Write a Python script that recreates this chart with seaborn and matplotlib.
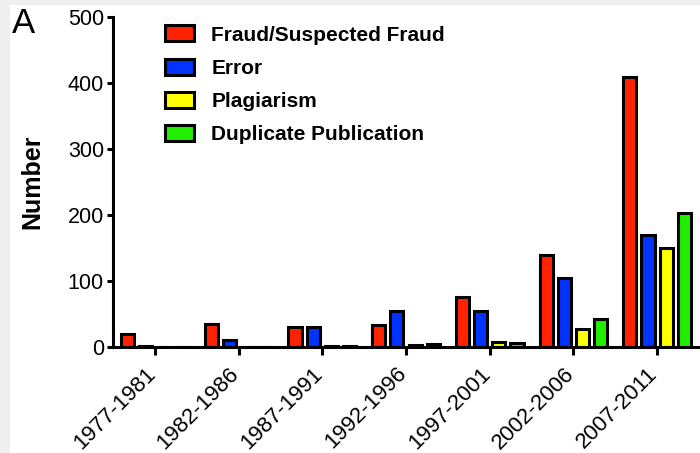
import matplotlib
matplotlib.use("Agg")
import matplotlib.pyplot as plt
import matplotlib.transforms as mtransforms
import seaborn as sns
import pandas as pd
from matplotlib.patches import Rectangle

periods = ["1977-1981", "1982-1986", "1987-1991", "1992-1996",
           "1997-2001", "2002-2006", "2007-2011"]
categories = ["Fraud/Suspected Fraud", "Error", "Plagiarism", "Duplicate Publication"]
fraud = [20, 35, 30, 34, 76, 140, 409]
error = [1, 11, 31, 54, 55, 105, 169]
plagiarism = [0, 0, 1, 3, 7, 28, 150]
duplicate = [0, 0, 1, 4, 6, 42, 203]
colors = ["#ff2200", "#0033ff", "#ffff00", "#22ee00"]
yticks = [0, 100, 200, 300, 400, 500]

series = [fraud, error, plagiarism, duplicate]
rows = []
for cat, vals in zip(categories, series):
    for p, v in zip(periods, vals):
        rows.append({"Period": p, "Category": cat, "Number": v})
df = pd.DataFrame(rows)

sns.set_style("ticks")
plt.rcParams["font.family"] = ["Liberation Sans", "DejaVu Sans"]
plt.rcParams.update({"text.color": "black", "axes.labelcolor": "black",
                     "xtick.color": "black", "ytick.color": "black"})

fig = plt.figure(figsize=(7.0, 4.53), dpi=100, facecolor="#efefef")
fig.patches.append(Rectangle((10 / 700, 0), 1, 1 - 5 / 453, transform=fig.transFigure,
                             facecolor="white", edgecolor="none", zorder=-5))
ax = fig.add_axes([113 / 700, 1 - 347 / 453, 586 / 700, 330 / 453])
ax.set_zorder(2)
ax.set_facecolor("none")

sns.barplot(data=df, x="Period", y="Number", hue="Category", hue_order=categories,
            order=periods, palette=dict(zip(categories, colors)), width=0.87, gap=0.28,
            edgecolor="black", linewidth=2.2, ax=ax, errorbar=None, saturation=1)

ax.set_xlim(-0.5, 6.5)
ax.set_ylim(0, 500)
ax.set_yticks(yticks)
ax.set_yticklabels([str(t) for t in yticks], fontsize=15.5)
ax.set_xticks(range(len(periods)))
ax.set_xticklabels([])
offset = mtransforms.ScaledTranslation(-10 / 100, -16 / 100, fig.dpi_scale_trans)
for i, p in enumerate(periods):
    ax.text(i, 0, p, transform=ax.get_xaxis_transform() + offset, fontsize=16,
            rotation=45, ha="right", va="top", rotation_mode="anchor", clip_on=False)
ax.tick_params(axis="both", width=2.2, length=4.5, color="black", pad=2)
ax.tick_params(axis="x", length=5.5, pad=4)
for s in ["top", "right"]:
    ax.spines[s].set_visible(False)
for s in ["left", "bottom"]:
    ax.spines[s].set_linewidth(2.2)
    ax.spines[s].set_color("black")
ax.set_xlabel("")
ax.set_ylabel("Number", fontsize=18, fontweight="bold", labelpad=17)

handles, labels = ax.get_legend_handles_labels()
leg = ax.legend(handles, labels, loc="upper left", bbox_to_anchor=(155 / 700, 1 - 15 / 453),
                bbox_transform=fig.transFigure, frameon=False, borderpad=0,
                handlelength=1.35, handleheight=0.8, handletextpad=0.85, labelspacing=0.67,
                prop={"size": 15, "weight": "bold"})

fig.text(12 / 700, 1 - 7 / 453, "A", fontsize=25, va="top", ha="left")

fig.savefig("out.png", dpi=100, facecolor=fig.get_facecolor())
